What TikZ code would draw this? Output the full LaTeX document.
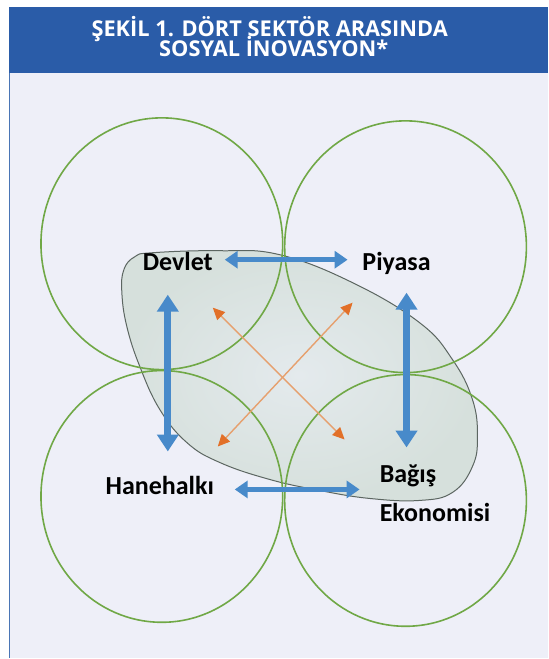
\documentclass[tikz,border=0pt]{standalone}
\usepackage{fontspec}
\usepackage{tikz}
\usetikzlibrary{arrows.meta}
\newfontfamily\titlefont{Open Sans}
\newfontfamily\labelfont{Carlito}
\definecolor{barblue}{RGB}{42,92,168}
\definecolor{paleback}{RGB}{238,239,248}
\definecolor{ringgreen}{RGB}{112,168,70}
\definecolor{arrowblue}{RGB}{72,138,202}
\definecolor{arroworange}{RGB}{226,112,40}
\definecolor{orangeline}{RGB}{230,160,110}
\definecolor{blobinner}{RGB}{228,234,237}
\definecolor{blobouter}{RGB}{214,224,220}
\definecolor{blobedge}{RGB}{92,102,97}

\begin{document}
\begin{tikzpicture}
  [x=1pt,y=-1pt,
   every node/.style={inner sep=0pt,font=\labelfont\bfseries\fontsize{26}{39}\selectfont},
   titletext/.style={text=white,font=\titlefont\bfseries\fontsize{21.8}{20}\selectfont},
   ring/.style={draw=ringgreen,line width=1.6pt},
   bigarrow/.style={draw=arrowblue,line width=7pt,{Triangle[width=21pt,length=17pt]}-{Triangle[width=21pt,length=17pt]}},
   midarrow/.style={draw=arrowblue,line width=4.5pt,{Triangle[width=17pt,length=13pt]}-{Triangle[width=17pt,length=13pt]}},
   thinarrow/.style={draw=orangeline,line width=1.4pt,{Triangle[width=11pt,length=12pt,fill=arroworange,color=arroworange]}-{Triangle[width=11pt,length=12pt,fill=arroworange,color=arroworange]}}]

  % frame and title bar
  \fill[white] (0,0) rectangle (549,659);
  \fill[paleback] (9,73) rectangle (549,659);
  \fill[barblue] (9,7) rectangle (549,73);
  \draw[barblue!85,line width=1.5pt] (9.75,73) -- (9.75,659);
  \node[titletext,anchor=base] (title1) at (270,37) {ŞEKİL 1. DÖRT SEKTÖR ARASINDA};
  \node[titletext,anchor=base] (title2) at (274,57) {SOSYAL İNOVASYON*};

  % grey blob
  \shadedraw[inner color=blobinner,outer color=blobouter,draw=blobedge,line width=1pt]
    plot[smooth cycle,tension=0.7] coordinates {(122,293) (124,270) (135,257) (153,253)
      (220,251) (280,255) (353,283) (420,323) (453,360) (473,400) (478,437) (473,467)
      (453,493) (420,501) (370,499) (320,491) (270,480) (220,463) (187,443) (160,410)
      (140,367) (127,327)};

  % four sectors
  \foreach \cx/\cy in {162/244,406/247,162/497,406/501}
    \draw[ring] (\cx,\cy) ellipse [x radius=121,y radius=126];

  \node[anchor=base] (devlet) at (178,271) {Devlet};
  \node[anchor=base] (piyasa) at (397,271) {Piyasa};
  \node[anchor=base] (hanehalki) at (160,495) {Hanehalkı};
  \node[anchor=base west,align=left] (bagis) at (380,522) {Bağış\\Ekonomisi};

  \coordinate (dvr) at (225,260);
  \coordinate (pyl) at (348,260);
  \coordinate (hhr) at (235,490);
  \coordinate (bgl) at (360,490);
  \coordinate (dvb) at (168,295);
  \coordinate (hht) at (168,452);
  \coordinate (pyb) at (407,293);
  \coordinate (bgt) at (407,448);
  \coordinate (dvx) at (213,308);
  \coordinate (bgx) at (345,440);
  \coordinate (pyx) at (353,303);
  \coordinate (hhx) at (218,447);

  \foreach \from/\to in {dvr/pyl,hhr/bgl}
    \draw[midarrow] (\from) -- (\to);
  \foreach \from/\to in {dvb/hht,pyb/bgt}
    \draw[bigarrow] (\from) -- (\to);
  \foreach \from/\to in {dvx/bgx,pyx/hhx}
    \draw[thinarrow] (\from) -- (\to);
\end{tikzpicture}
\end{document}
